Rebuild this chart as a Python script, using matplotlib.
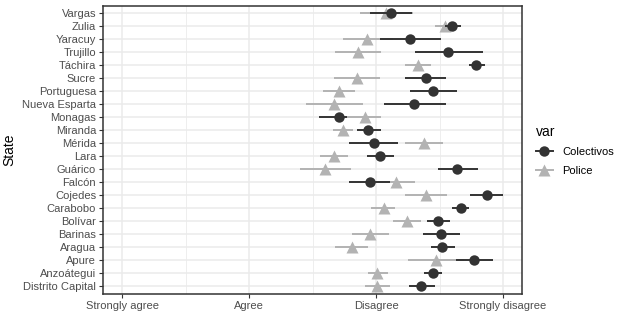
import numpy as np
import matplotlib
matplotlib.use("Agg")
import matplotlib.pyplot as plt
from matplotlib.lines import Line2D

plt.rcParams['font.family'] = ['Liberation Sans', 'DejaVu Sans']

# States, top to bottom
states = ["Vargas", "Zulia", "Yaracuy", "Trujillo", "Táchira", "Sucre",
          "Portuguesa", "Nueva Esparta", "Monagas", "Miranda", "Mérida",
          "Lara", "Guárico", "Falcón", "Cojedes", "Carabobo", "Bolívar",
          "Barinas", "Aragua", "Apure", "Anzoátegui", "Distrito Capital"]

# Colectivos: estimate, lower, upper
col_est = [3.12, 3.60, 3.27, 3.57, 3.79, 3.39, 3.45, 3.30, 2.71, 2.94, 2.98,
           3.03, 3.64, 2.95, 3.87, 3.67, 3.49, 3.51, 3.52, 3.77, 3.45, 3.35]
col_lo = [2.95, 3.54, 3.03, 3.31, 3.73, 3.23, 3.27, 3.06, 2.55, 2.85, 2.79,
          2.93, 3.49, 2.79, 3.74, 3.60, 3.40, 3.37, 3.43, 3.63, 3.38, 3.26]
col_hi = [3.28, 3.67, 3.51, 3.84, 3.86, 3.55, 3.64, 3.55, 2.77, 3.04, 3.17,
          3.14, 3.80, 3.11, 4.00, 3.73, 3.58, 3.66, 3.62, 3.92, 3.52, 3.46]

# Police: estimate, lower, upper
pol_est = [3.08, 3.54, 2.93, 2.86, 3.33, 2.85, 2.71, 2.67, 2.91, 2.74, 3.38,
           2.67, 2.60, 3.16, 3.39, 3.06, 3.24, 2.95, 2.81, 3.47, 3.01, 3.01]
pol_lo = [2.87, 3.46, 2.74, 2.68, 3.23, 2.67, 2.58, 2.45, 2.77, 2.66, 3.23,
          2.56, 2.40, 3.00, 3.23, 2.96, 3.13, 2.81, 2.68, 3.25, 2.94, 2.91]
pol_hi = [3.29, 3.62, 3.13, 3.04, 3.43, 3.03, 2.83, 2.90, 3.04, 2.82, 3.53,
          2.78, 2.80, 3.31, 3.56, 3.15, 3.35, 3.10, 2.94, 3.69, 3.09, 3.11]

xticks = [1, 2, 3, 4]
xlabels = ["Strongly agree", "Agree", "Disagree", "Strongly disagree"]

dark = "#333333"
grey = "#b3b3b3"

fig = plt.figure(figsize=(6.36, 3.30), dpi=100)
ax = fig.add_axes([0.162, 0.109, 0.659, 0.874])

y = np.arange(len(states))[::-1] + 1

ax.hlines(y, pol_lo, pol_hi, color=grey, lw=1.4, zorder=3)
ax.plot(pol_est, y, '^', color=grey, ms=8.5, mec='none', zorder=4)
ax.hlines(y, col_lo, col_hi, color=dark, lw=1.4, zorder=5)
ax.plot(col_est, y, 'o', color=dark, ms=7.5, mec='none', zorder=6)

ax.set_xlim(0.85, 4.15)
ax.set_ylim(0.4, len(states) + 0.6)
ax.set_xticks(xticks)
ax.set_xticklabels(xlabels)
ax.set_xticks([1.5, 2.5, 3.5], minor=True)
ax.set_yticks(y)
ax.set_yticklabels(states)

ax.grid(True, which='major', color='#ebebeb', lw=1.1, zorder=0)
ax.grid(True, which='minor', axis='x', color='#ebebeb', lw=0.6, zorder=0)
ax.set_axisbelow(True)
ax.tick_params(which='major', length=3, width=0.8, color=dark, labelsize=8,
               labelcolor='#4d4d4d', pad=2)
ax.tick_params(which='minor', length=0)
for s in ax.spines.values():
    s.set_color(dark)
    s.set_linewidth(1.1)

ax.set_ylabel("State", fontsize=10, labelpad=4)

handles = [Line2D([], [], color=dark, marker='o', ms=7.5, mec='none', lw=1.4),
           Line2D([], [], color=grey, marker='^', ms=8.5, mec='none', lw=1.4)]
leg = fig.legend(handles, ["Colectivos", "Police"], title="var",
                 loc='upper left', bbox_to_anchor=(0.835, 0.635),
                 frameon=False, fontsize=8, title_fontsize=10,
                 handlelength=1.6, labelspacing=0.75, borderaxespad=0)
leg._legend_box.align = "left"

fig.savefig("out.png", dpi=100)
